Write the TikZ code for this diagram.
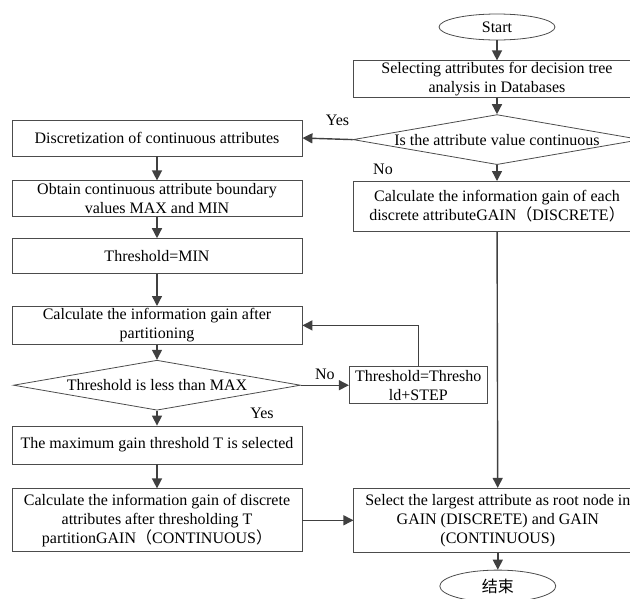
\documentclass[tikz,border=0pt]{standalone}
\usepackage{fontspec}
\setmainfont{Liberation Serif}
\newfontfamily\cjk{Noto Sans CJK SC}
\usetikzlibrary{arrows.meta, shapes.geometric, positioning}

\begin{document}
\begin{tikzpicture}[
	x=1pt, y=1pt,
	every node/.style={font=\fontsize{16}{19}\selectfont},
	block/.style={
		rectangle, draw=black!70, line width=0.8pt,
		minimum width=290pt, align=center, inner sep=1pt
	},
	rblock/.style={block, minimum width=288pt},
	decision/.style={
		diamond, draw=black!70, line width=0.8pt, aspect=5.7,
		minimum width=287pt, minimum height=50pt, inner sep=0pt
	},
	terminal/.style={ellipse, draw=black!70, line width=0.8pt, minimum width=116pt, inner sep=0pt},
	lbl/.style={inner sep=1pt},
	arrow/.style={-{Triangle[length=10pt,width=10pt]}, line width=1.4pt, draw=black!75}
	]
	\useasboundingbox (0,0) rectangle (630,-598);

	% Nodes
	\node[terminal, minimum height=26pt] (start) at (497,-27) {Start};
	\node[rblock, minimum height=37pt, below=20pt of start] (select) {Selecting attributes for decision tree\\ analysis in Databases};
	\node[decision, minimum width=288pt, below=16pt of select] (isCont) {Is the attribute value continuous};
	\node[rblock, minimum height=50pt, below=16pt of isCont] (gainDisc) {Calculate the information gain of each\\ discrete attributeGAIN{\cjk （}DISCRETE{\cjk ）}};
	\node[block, minimum height=36pt] (discretize) at (157,-138) {Discretization of continuous attributes};
	\node[block, minimum height=36pt, below=24pt of discretize] (bounds) {Obtain continuous attribute boundary\\ values MAX and MIN};
	\node[block, minimum height=35pt, below=21pt of bounds] (thMin) {Threshold=MIN};
	\node[block, minimum height=38pt, below=32pt of thMin] (gainPart) {Calculate the information gain after\\ partitioning};
	\node[decision, below=15pt of gainPart] (lessMax) {Threshold is less than MAX};
	\node[block, minimum width=138pt, minimum height=37pt, right=48pt of lessMax] (thStep) {Threshold=Thresho\\ ld+STEP};
	\node[block, minimum height=38pt, below=15pt of lessMax] (maxGain) {The maximum gain threshold T is selected};
	\node[block, minimum height=63pt, below=24pt of maxGain] (gainCont) {Calculate the information gain of discrete\\ attributes after thresholding T\\ partitionGAIN{\cjk （}CONTINUOUS{\cjk ）}};
	\node[rblock, minimum height=64pt, right=51pt of gainCont] (root) {Select the largest attribute as root node in\\ GAIN (DISCRETE) and GAIN\\ (CONTINUOUS)};
	\node[terminal, minimum height=32pt, below=17pt of root] (finish) {{\cjk 结束}};

	% Arrows with labels
	\draw[arrow] (start) -- (select);
	\draw[arrow] (select) -- (isCont);
	\draw[arrow] (isCont.west) -- node[lbl, pos=0.3, above=12pt] {Yes} (discretize.east);
	\draw[arrow] (isCont.south) -- node[lbl, pos=0, xshift=-114pt, yshift=-4pt] {No} (gainDisc.north);
	\draw[arrow] (discretize) -- (bounds);
	\draw[arrow] (bounds) -- (thMin);
	\draw[arrow] (thMin) -- (gainPart);
	\draw[arrow] (gainPart) -- (lessMax);
	\draw[arrow] (lessMax.east) -- node[lbl, above=4pt] {No} (thStep.west);
	\draw[arrow] (thStep.north) |- (gainPart.east);
	\draw[arrow] (lessMax.south) -- node[lbl, pos=0, xshift=105pt, yshift=-3pt] {Yes} (maxGain.north);
	\draw[arrow] (maxGain) -- (gainCont);
	\draw[arrow] (gainCont) -- (root);
	\draw[arrow] (gainDisc) -- (root);
	\draw[arrow] (root) -- (finish);
\end{tikzpicture}
\end{document}
